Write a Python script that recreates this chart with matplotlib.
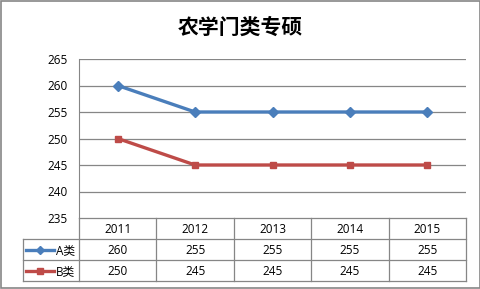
import matplotlib.pyplot as plt
from matplotlib.lines import Line2D

plt.rcParams['font.family'] = ['Open Sans', 'Noto Sans CJK SC', 'DejaVu Sans']

title = '农学门类专硕'
years = ['2011', '2012', '2013', '2014', '2015']
series_names = ['A类', 'B类']
a_values = [260, 255, 255, 255, 255]
b_values = [250, 245, 245, 245, 245]
yticks = [235, 240, 245, 250, 255, 260, 265]

colors = ['#4A7EBB', '#BE4B48']
markers = ['D', 's']

W, H = 481, 289
fig = plt.figure(figsize=(W / 100, H / 100), dpi=100)

def box(x0, y0, x1, y1):
    # pixel box (top-left origin) -> figure fraction rect
    return [x0 / W, 1 - y1 / H, (x1 - x0) / W, (y1 - y0) / H]

grid_c = '#868686'

# main plot area
ax = fig.add_axes(box(79, 59, 466, 218))
x = list(range(len(years)))
for vals, c, m in zip([a_values, b_values], colors, markers):
    ax.plot(x, vals, color=c, lw=2.4, marker=m, ms=5 if m == 's' else 5.5, zorder=3)
ax.set_xlim(-0.5, len(years) - 0.5)
ax.set_ylim(yticks[0], yticks[-1])
ax.set_yticks(yticks)
ax.set_xticks([])
for t in yticks[1:]:
    ax.axhline(t, color=grid_c, lw=0.9, zorder=1)
for s in ['top', 'right', 'bottom']:
    ax.spines[s].set_visible(False)
ax.spines['left'].set_color(grid_c)
ax.tick_params(axis='y', length=0, labelsize=8.5, pad=8, colors='black')

# data table below, sharing column layout
tx = fig.add_axes(box(79, 218, 466, 281))
tx.set_xlim(-0.5, len(years) - 0.5)
tx.set_ylim(3, 0)
tx.axis('off')
leg_w = (79 - 23) / (466 - 79) * len(years)
left = -0.5 - leg_w
right = len(years) - 0.5
line_kw = dict(color=grid_c, lw=0.9, clip_on=False)
tx.plot([-0.5, right], [0, 0], **line_kw)
for yy in [1, 2, 3]:
    tx.plot([left, right], [yy, yy], **line_kw)
tx.plot([left, left], [1, 3], **line_kw)
for i in range(len(years) + 1):
    tx.plot([i - 0.5, i - 0.5], [0, 3], **line_kw)
for i, yr in enumerate(years):
    tx.text(i, 0.55, yr, ha='center', va='center', fontsize=8.5)
for r, vals in enumerate([a_values, b_values]):
    for i, v in enumerate(vals):
        tx.text(i, 1.55 + r, str(v), ha='center', va='center', fontsize=8.5)
# legend keys inside the table
for r, (name, c, m) in enumerate(zip(series_names, colors, markers)):
    yy = 1.5 + r
    x0 = left + 0.04
    x1 = left + 0.4
    tx.add_line(Line2D([x0, x1], [yy, yy], color=c, lw=2.4, clip_on=False))
    tx.plot([(x0 + x1) / 2], [yy], marker=m, color=c, ms=4.5, clip_on=False)
    tx.text(x1 + 0.02, yy + 0.03, name, ha='left', va='center', fontsize=8.5,
            family=['Open Sans', 'Noto Sans CJK SC'])

fig.text(240 / W, 1 - 27 / H, title, ha='center', va='center', fontsize=15,
         fontweight='bold', family=['Noto Sans CJK SC'])

# outer border
fig.add_artist(plt.Rectangle((0.002, 0.003), 0.995, 0.993, transform=fig.transFigure,
                             fill=False, edgecolor='#868686', lw=1.2))

fig.savefig('out.png', dpi=100)
